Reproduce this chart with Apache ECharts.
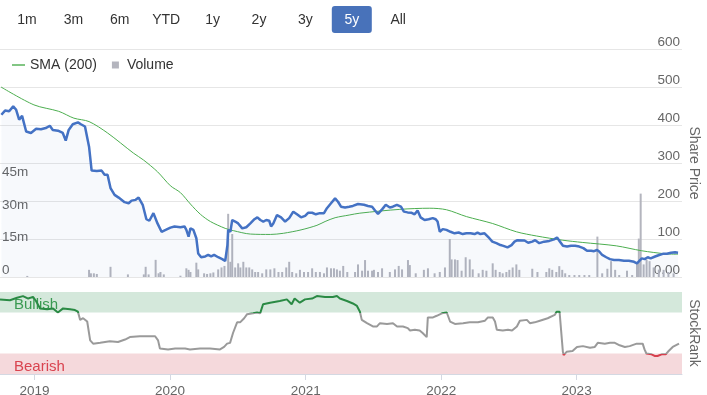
<!DOCTYPE html>
<html><head><meta charset="utf-8">
<script src="https://cdn.jsdelivr.net/npm/echarts@6/dist/echarts.min.js"></script>
<style>html,body{margin:0;padding:0;background:#fff}#c{width:707px;height:395px}</style>
</head><body><div id="c"></div>
<script>
const rangeButtons = ['1m','3m','6m','YTD','1y','2y','3y','5y','All'];
const selectedRange = '5y';
const xStart = '2018-09-30';
const xEnd = '2023-10-12';

// Share price (close)
const priceSeries = [
['2018-10-01',427],['2018-10-11',438],['2018-10-22',436],['2018-11-02',449],['2018-11-10',440],['2018-11-18',414],['2018-11-26',424],['2018-12-07',383],['2018-12-20',379],
['2019-01-03',390],['2019-01-16',389],['2019-01-29',392],['2019-02-09',398],['2019-02-17',387],['2019-03-03',385],['2019-03-16',379],['2019-03-24',359],['2019-04-01',387],['2019-04-12',402],['2019-04-26',407],['2019-05-04',402],['2019-05-15',396],['2019-05-20',392],['2019-05-26',343],['2019-06-02',280],['2019-06-16',279],['2019-06-29',280],['2019-07-07',269],['2019-07-15',269],['2019-07-23',234],['2019-08-03',216],['2019-08-14',209],['2019-08-30',197],['2019-09-10',194],['2019-09-18',201],['2019-09-29',203],['2019-10-07',209],['2019-10-18',190],['2019-10-28',152],['2019-11-05',148],['2019-11-16',168],['2019-11-27',141],['2019-12-08',119],['2019-12-19',124],
['2020-01-01',130],['2020-01-12',133],['2020-01-28',131],['2020-02-08',133],['2020-02-13',124],['2020-02-19',106],['2020-02-24',128],['2020-03-03',124],['2020-03-11',102],['2020-03-16',62],['2020-03-24',52],['2020-04-04',54],['2020-04-12',58],['2020-04-20',54],['2020-04-28',58],['2020-05-09',52],['2020-05-20',47],['2020-05-28',42],['2020-06-03',84],['2020-06-05',124],['2020-06-11',119],['2020-06-16',150],['2020-06-24',146],['2020-07-02',141],['2020-07-13',128],['2020-07-24',131],['2020-08-04',141],['2020-08-15',152],['2020-08-23',157],['2020-08-31',150],['2020-09-08',146],['2020-09-16',150],['2020-09-24',148],['2020-09-29',133],['2020-10-05',141],['2020-10-15',163],['2020-10-26',157],['2020-11-06',146],['2020-11-17',155],['2020-11-28',172],['2020-12-08',165],['2020-12-19',157],['2020-12-30',161],
['2021-01-07',169],['2021-01-18',169],['2021-01-28',165],['2021-02-08',168],['2021-02-19',168],['2021-02-27',181],['2021-03-10',194],['2021-03-21',207],['2021-03-29',198],['2021-04-06',185],['2021-04-17',183],['2021-04-28',185],['2021-05-08',187],['2021-05-22',192],['2021-05-27',188],['2021-06-07',190],['2021-06-18',187],['2021-06-29',185],['2021-07-07',175],['2021-07-15',166],['2021-07-26',178],['2021-08-05',190],['2021-08-16',183],['2021-08-24',185],['2021-09-04',190],['2021-09-15',185],['2021-09-23',172],['2021-10-03',170],['2021-10-14',169],['2021-10-22',165],['2021-10-30',175],['2021-11-07',157],['2021-11-18',150],['2021-11-29',152],['2021-12-10',155],['2021-12-18',152],['2021-12-23',146],['2021-12-29',119],
['2022-01-06',126],['2022-01-16',124],['2022-01-27',119],['2022-02-07',115],['2022-02-18',117],['2022-03-01',113],['2022-03-11',115],['2022-03-22',115],['2022-04-02',113],['2022-04-10',117],['2022-04-18',113],['2022-04-29',115],['2022-05-12',102],['2022-05-20',93],['2022-05-31',89],['2022-06-11',84],['2022-06-19',82],['2022-06-30',78],['2022-07-11',84],['2022-07-19',93],['2022-07-27',97],['2022-08-15',96],['2022-08-25',90],['2022-09-05',93],['2022-09-13',97],['2022-09-24',89],['2022-10-07',93],['2022-10-21',95],['2022-11-03',99],['2022-11-11',104],['2022-11-19',93],['2022-11-27',82],['2022-12-08',80],['2022-12-19',82],['2022-12-30',82],
['2023-01-10',80],['2023-01-21',76],['2023-01-31',69],['2023-02-11',69],['2023-02-19',68],['2023-02-27',71],['2023-03-05',67],['2023-03-13',58],['2023-03-24',52],['2023-04-03',47],['2023-04-14',45],['2023-04-27',45],['2023-05-11',43],['2023-05-24',43],['2023-06-07',40],['2023-06-15',36],['2023-06-20',38],['2023-06-28',49],['2023-07-06',47],['2023-07-14',52],['2023-07-22',49],['2023-08-03',54],['2023-08-14',58],['2023-08-24',61],['2023-09-04',61],['2023-09-15',64],['2023-09-26',65],['2023-10-04',64]
];

// 200-day simple moving average
const smaSeries = [
['2018-09-30',500],['2018-12-28',453],['2019-03-05',436],['2019-04-15',418],['2019-05-26',409],['2019-07-15',379],['2019-09-23',326],['2019-10-20',308],['2019-11-27',277],
['2020-01-01',240],['2020-01-28',222],['2020-02-24',192],['2020-03-22',165],['2020-04-18',146],['2020-05-28',128],['2020-06-19',122],['2020-08-04',113],['2020-09-27',112],['2020-11-01',115],['2020-12-19',124],
['2021-01-31',136],['2021-02-22',146],['2021-03-21',156],['2021-04-28',163],['2021-05-27',168],['2021-09-12',178],['2021-12-02',181],
['2022-01-16',177],['2022-03-11',159],['2022-05-20',141],['2022-07-24',119],['2022-09-16',108],['2022-11-25',97],
['2023-01-18',91],['2023-04-20',82],['2023-06-28',69],['2023-09-01',61],['2023-10-04',60]
];

// Volume (millions)
const volumeSeries = [
['2018-12-10',0.5],['2019-05-26',3.3],['2019-05-31',1.7],['2019-06-08',1.7],['2019-06-16',1.4],['2019-07-23',4.7],['2019-09-08',1.2],['2019-10-21',1.2],['2019-10-26',4.7],['2019-11-03',1.2],['2019-11-22',7.9],['2019-11-30',1.7],['2019-12-05',2.3],['2019-12-14',1.2],
['2020-01-28',0.6],['2020-02-13',4.0],['2020-02-19',3.3],['2020-02-24',2.3],['2020-03-11',6.6],['2020-03-16',3.5],['2020-04-01',1.7],['2020-04-09',1.4],['2020-04-18',1.7],['2020-04-26',2.1],['2020-05-09',3.5],['2020-05-18',4.4],['2020-05-26',5.1],['2020-06-05',29.1],['2020-06-11',7],['2020-06-16',19.8],['2020-06-24',4.4],['2020-07-02',6.3],['2020-07-08',4.4],['2020-07-16',7],['2020-07-24',4.4],['2020-08-01',4.4],['2020-08-09',3.5],['2020-08-17',2.3],['2020-08-25',2.3],['2020-09-05',1.7],['2020-09-16',3.5],['2020-09-27',3.5],['2020-10-08',4.0],['2020-10-19',2.3],['2020-10-29',2.3],['2020-11-09',4.4],['2020-11-17',7],['2020-11-25',2.3],['2020-12-06',1.7],['2020-12-16',3.3],['2020-12-27',2.3],
['2021-01-07',2.3],['2021-01-18',4.0],['2021-01-28',2.3],['2021-02-08',2.3],['2021-02-19',1.7],['2021-02-27',4.4],['2021-03-10',4.0],['2021-03-18',4.0],['2021-03-26',3.5],['2021-04-03',2.9],['2021-04-12',5.1],['2021-04-23',2.3],['2021-05-14',2.3],['2021-05-22',5.8],['2021-06-02',2.9],['2021-06-10',7.8],['2021-06-18',2.9],['2021-06-29',2.9],['2021-07-04',3.3],['2021-07-15',2.3],['2021-07-26',4.0],['2021-08-16',2.3],['2021-08-30',3.5],['2021-09-09',5.1],['2021-09-18',3.5],['2021-10-04',7.8],['2021-10-09',5.5],['2021-10-25',1.7],['2021-11-16',3.3],['2021-11-27',4.0],['2021-12-15',1.7],['2021-12-29',2.3],
['2022-01-12',4.4],['2022-01-25',17.5],['2022-01-30',8.1],['2022-02-08',8.1],['2022-02-15',7.8],['2022-02-26',2.9],['2022-03-09',9.1],['2022-03-20',8.1],['2022-03-28',3.5],['2022-04-13',1.7],['2022-04-24',3.3],['2022-05-04',2.9],['2022-05-21',6.3],['2022-05-29',3.3],['2022-06-09',2.3],['2022-06-17',1.7],['2022-06-27',2.3],['2022-07-05',3.3],['2022-07-14',4.4],['2022-07-24',5.8],['2022-08-01',3.3],['2022-09-05',3.8],['2022-09-19',2.3],['2022-10-13',2.3],['2022-10-21',4.0],['2022-10-29',3.3],['2022-11-09',2.3],['2022-11-17',5.0],['2022-11-25',3.3],['2022-12-03',1.7],['2022-12-14',0.9],['2022-12-28',0.9],
['2023-01-10',0.9],['2023-01-24',0.9],['2023-02-06',0.9],['2023-02-28',18.6],['2023-03-13',1.7],['2023-03-27',3.8],['2023-04-06',7.3],['2023-04-17',3.3],['2023-04-28',0.9],['2023-05-19',2.9],['2023-06-02',0.9],['2023-06-15',6.4],['2023-06-20',17.7],['2023-06-25',38.4],['2023-07-03',5.8],['2023-07-11',8.0],['2023-07-19',7.3],['2023-07-30',4.4],['2023-08-13',3.4],['2023-08-26',3.3],['2023-09-08',2.3],['2023-09-22',1.7]
];

// StockRank (0-100)
const rankSeries = [
['2018-09-30',91],['2018-10-27',90],['2018-11-15',93],['2018-12-01',95],['2018-12-15',92],['2018-12-28',94],['2019-01-05',89],['2019-01-16',80],['2019-02-04',79],['2019-02-20',80],['2019-03-05',75],['2019-03-19',80],['2019-04-07',79],['2019-04-20',78],['2019-04-28',76],['2019-05-04',66],['2019-05-12',68],['2019-05-23',64],['2019-05-31',41],['2019-06-08',37],['2019-06-27',38],['2019-07-10',39],['2019-07-23',40],['2019-08-14',39],['2019-09-02',42],['2019-09-15',45],['2019-10-12',46],['2019-11-08',46],['2019-11-22',46],['2019-11-30',41],['2019-12-05',31],['2019-12-27',30],
['2020-01-15',31],['2020-02-11',31],['2020-02-24',30],['2020-03-22',31],['2020-04-18',31],['2020-05-15',30],['2020-05-26',33],['2020-06-03',37],['2020-06-11',38],['2020-06-19',50],['2020-06-30',63],['2020-07-08',63],['2020-07-19',68],['2020-07-27',73],['2020-08-12',74],['2020-08-23',75],['2020-08-31',74],['2020-09-08',85],['2020-09-27',87],['2020-10-23',89],['2020-11-11',91],['2020-11-24',85],['2020-12-02',92],['2020-12-16',87],['2020-12-30',91],
['2021-01-18',92],['2021-01-31',95],['2021-02-22',94],['2021-03-15',94],['2021-03-26',95],['2021-04-03',92],['2021-04-22',89],['2021-05-08',86],['2021-05-19',83],['2021-05-27',76],['2021-06-01',66],['2021-06-15',62],['2021-07-01',58],['2021-07-12',58],['2021-07-20',62],['2021-08-08',61],['2021-08-24',62],['2021-09-04',58],['2021-09-20',58],['2021-10-03',56],['2021-10-09',53],['2021-10-22',54],['2021-11-04',53],['2021-11-12',50],['2021-11-23',45],['2021-11-26',69],['2021-12-10',69],['2021-12-20',71],
['2022-01-03',74],['2022-01-16',75],['2022-01-25',64],['2022-02-07',61],['2022-03-01',62],['2022-03-19',63],['2022-04-10',63],['2022-04-29',65],['2022-05-07',69],['2022-05-20',69],['2022-05-26',64],['2022-05-31',54],['2022-06-16',53],['2022-06-30',54],['2022-07-11',53],['2022-07-24',58],['2022-08-01',65],['2022-08-20',66],['2022-08-28',62],['2022-09-10',63],['2022-09-24',65],['2022-10-15',68],['2022-11-03',72],['2022-11-08',76],['2022-11-16',76],['2022-11-25',27],['2022-11-27',23],['2022-12-05',27],['2022-12-21',28],
['2023-01-02',33],['2023-01-18',34],['2023-02-06',32],['2023-02-19',33],['2023-02-27',38],['2023-03-18',37],['2023-04-01',38],['2023-04-14',38],['2023-04-27',35],['2023-05-11',33],['2023-05-24',34],['2023-06-12',37],['2023-06-28',37],['2023-07-03',30],['2023-07-08',25],['2023-07-22',24],['2023-07-30',22],['2023-08-07',22],['2023-08-18',24],['2023-08-29',24],['2023-09-06',28],['2023-09-17',33],['2023-10-04',37]
];

const priceTicks = {min: 0, max: 600, interval: 100};
const volumeTicks = {min: 0, max: 105, interval: 15, lastLabel: 45};
const rankBands = {bearish: [0, 25], bullish: [75, 100]};

const FONT = "'Liberation Sans', Arial, sans-serif";
const DAY = 24 * 3600 * 1000;
const tMin = +new Date(xStart + 'T00:00:00');
const tMax = +new Date(xEnd + 'T00:00:00');

const chart = echarts.init(document.getElementById('c'), null, {renderer: 'canvas'});

const grids = [
  {left: 0, right: 25, top: 49, height: 228, containLabel: false, outerBoundsMode: 'none'},
  {left: 0, right: 25, top: 292, height: 82, containLabel: false, outerBoundsMode: 'none'}
];

const buttonGraphics = [];
rangeButtons.forEach((t, i) => {
  const cx = 27 + i * 46.4;
  if (t === selectedRange) {
    buttonGraphics.push({type: 'rect', shape: {x: cx - 20, y: 6, width: 40, height: 27, r: 3}, style: {fill: '#4872ba'}, silent: true});
  }
  buttonGraphics.push({type: 'text', x: cx, y: 20, style: {text: t, fill: t === selectedRange ? '#ffffff' : '#333333', fontSize: 14, fontFamily: FONT, align: 'center', verticalAlign: 'middle', textAlign: 'center', textVerticalAlign: 'middle'}, silent: true});
});

const option = {
  animation: false,
  textStyle: {fontFamily: FONT},
  graphic: buttonGraphics,
  legend: {
    data: [{name: 'SMA (200)', icon: 'path://M0,0L13,0L13,1.4L0,1.4Z'}, {name: 'Volume', icon: 'path://M0,0L10,0L10,10L0,10Z'}],
    left: 12, top: 58, padding: 0, itemWidth: 13, itemHeight: 7, itemGap: 15,
    textStyle: {color: '#333333', fontSize: 14, fontFamily: FONT},
    selectedMode: false
  },
  grid: grids,
  xAxis: [
    {type: 'time', gridIndex: 0, min: tMin, max: tMax, show: false},
    {type: 'time', gridIndex: 1, min: tMin, max: tMax,
     minInterval: 365 * DAY, maxInterval: 366 * DAY,
     axisLine: {lineStyle: {color: '#d4d8e2'}},
     axisTick: {length: 6, lineStyle: {color: '#d4d8e2'}},
     splitLine: {show: false},
     axisLabel: {color: '#666666', fontSize: 13.5, fontFamily: FONT, margin: 10, showMinLabel: false, showMaxLabel: false,
       formatter: function (v) { const d = new Date(v); return (d.getMonth() === 0 && d.getDate() === 1) ? String(d.getFullYear()) : ''; }}
    }
  ],
  yAxis: [
    {type: 'value', gridIndex: 0, position: 'right', min: priceTicks.min, max: priceTicks.max, interval: priceTicks.interval,
     axisLine: {show: false}, axisTick: {show: false},
     splitLine: {lineStyle: {color: '#e6e6e6'}},
     axisLabel: {inside: true, margin: 2, color: '#666666', fontSize: 13.5, fontFamily: FONT, verticalAlign: 'bottom',
       formatter: v => v === 0 ? '0.00' : String(v)},
     name: 'Share Price', nameLocation: 'middle', nameRotate: -90, nameGap: 5, nameMoveOverlap: false,
     nameTextStyle: {color: '#666666', fontSize: 14, fontFamily: FONT}
    },
    {type: 'value', gridIndex: 0, position: 'left', min: volumeTicks.min, max: volumeTicks.max, interval: volumeTicks.interval,
     axisLine: {show: false}, axisTick: {show: false}, splitLine: {show: false},
     axisLabel: {inside: true, margin: 2, color: '#666666', fontSize: 13.5, fontFamily: FONT, verticalAlign: 'bottom',
       formatter: v => v > volumeTicks.lastLabel ? '' : (v === 0 ? '0' : v + 'm')}
    },
    {type: 'value', gridIndex: 1, position: 'right', min: 0, max: 100, interval: 100,
     axisLine: {show: false}, axisTick: {show: false},
     splitLine: {lineStyle: {color: '#e6e6e6'}},
     axisLabel: {inside: true, margin: 2, color: '#666666', fontSize: 13.5, fontFamily: FONT, verticalAlign: 'bottom',
       formatter: v => v === 0 ? '0' : ''},
     name: 'StockRank', nameLocation: 'middle', nameRotate: -90, nameGap: 5, nameMoveOverlap: false,
     nameTextStyle: {color: '#666666', fontSize: 14, fontFamily: FONT}
    }
  ],
  visualMap: [{
    type: 'piecewise', show: false, seriesIndex: 3, dimension: 1,
    pieces: [
      {lt: rankBands.bearish[1], color: '#d6404e'},
      {gte: rankBands.bearish[1], lt: rankBands.bullish[0], color: '#9a9a9a'},
      {gte: rankBands.bullish[0], color: '#2a8a44'}
    ]
  }],
  series: [
    {name: 'Volume', type: 'bar', xAxisIndex: 0, yAxisIndex: 1, data: volumeSeries, barWidth: 2,
     itemStyle: {color: '#b4b5be'}, z: 1},
    {name: 'Share Price', type: 'line', xAxisIndex: 0, yAxisIndex: 0, data: priceSeries, symbol: 'none',
     lineStyle: {color: '#4472c4', width: 2.5}, itemStyle: {color: '#4472c4'},
     areaStyle: {color: 'rgba(68,114,196,0.06)'}, z: 4},
    {name: 'SMA (200)', type: 'line', xAxisIndex: 0, yAxisIndex: 0, data: smaSeries, symbol: 'none', smooth: 0.3,
     lineStyle: {color: '#4cae4f', width: 1}, itemStyle: {color: '#4cae4f'}, z: 3},
    {name: 'StockRank', type: 'line', xAxisIndex: 1, yAxisIndex: 2, data: rankSeries, symbol: 'none',
     lineStyle: {width: 2}, z: 3,
     markArea: {
       silent: true,
       data: [
         [{name: 'Bullish', yAxis: rankBands.bullish[0], itemStyle: {color: '#d4e8db'},
           label: {color: '#3a9a52'}}, {yAxis: rankBands.bullish[1]}],
         [{name: 'Bearish', yAxis: rankBands.bearish[0], itemStyle: {color: '#f5d9dc'},
           label: {color: '#d9434f'}}, {yAxis: rankBands.bearish[1]}]
       ],
       label: {show: true, position: 'insideLeft', distance: 14, fontSize: 15, fontFamily: FONT, offset: [0, 3]}
     }
    }
  ]
};
chart.setOption(option);
</script>
</body></html>
